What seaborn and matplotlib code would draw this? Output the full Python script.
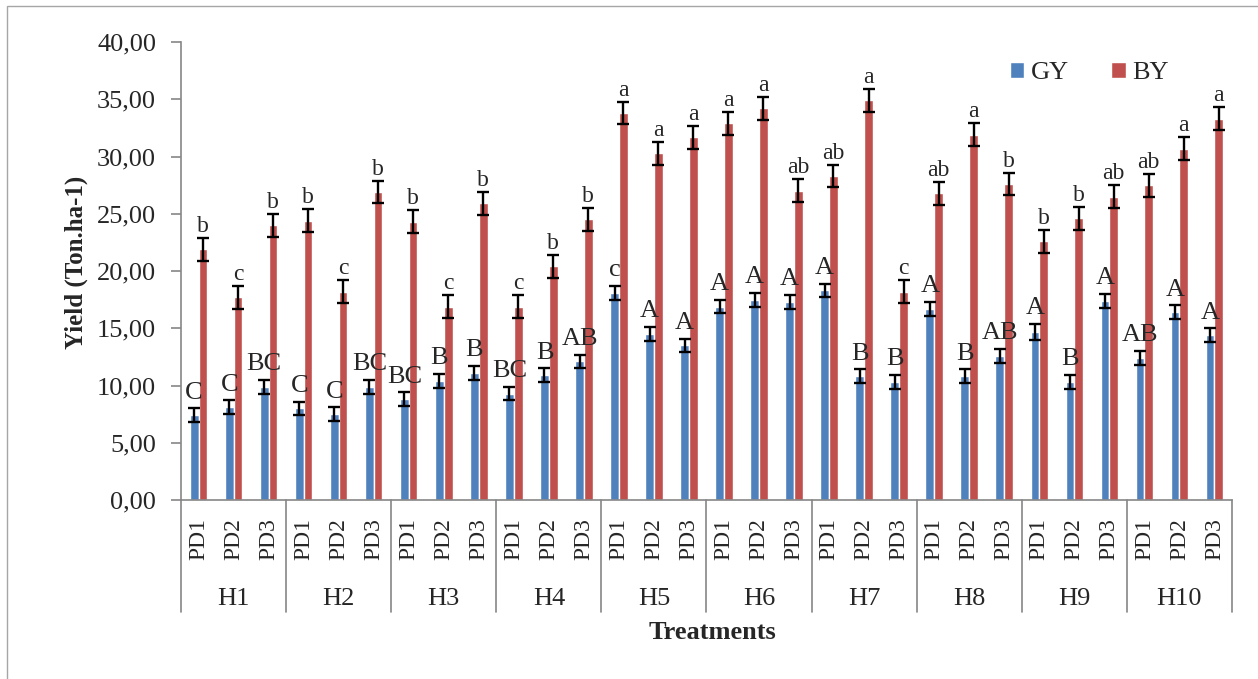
import numpy as np
import pandas as pd
import matplotlib

matplotlib.use("Agg")
import matplotlib.pyplot as plt
from matplotlib.patches import Rectangle
from matplotlib.ticker import FuncFormatter
import seaborn as sns

# data
harvests = ["H1", "H2", "H3", "H4", "H5", "H6", "H7", "H8", "H9", "H10"]
dates = ["PD1", "PD2", "PD3"]

gy = [7.4, 8.1, 9.9, 8.0, 7.5, 9.9, 8.8, 10.4, 11.1, 9.3,
      10.9, 12.1, 18.1, 14.5, 13.5, 16.9, 17.5, 17.3, 18.3, 10.8,
      10.3, 16.7, 10.8, 12.6, 14.7, 10.3, 17.4, 12.4, 16.4, 14.4]
by = [21.9, 17.7, 24.0, 24.4, 18.2, 26.9, 24.3, 16.9, 25.9, 16.9,
      20.4, 24.5, 33.8, 30.3, 31.7, 32.9, 34.2, 27.0, 28.3, 34.9,
      18.2, 26.8, 31.9, 27.6, 22.6, 24.6, 26.5, 27.5, 30.7, 33.3]
gy_err = [0.6, 0.6, 0.6, 0.6, 0.6, 0.6, 0.6, 0.6, 0.6, 0.6,
          0.6, 0.6, 0.6, 0.6, 0.6, 0.6, 0.6, 0.6, 0.6, 0.6,
          0.6, 0.6, 0.6, 0.6, 0.7, 0.6, 0.6, 0.6, 0.6, 0.6]
by_err = [1.0, 1.0, 1.0, 1.0, 1.0, 1.0, 1.0, 1.0, 1.0, 1.0,
          1.0, 1.0, 1.0, 1.0, 1.0, 1.0, 1.0, 1.0, 1.0, 1.0,
          1.0, 1.0, 1.0, 1.0, 1.0, 1.0, 1.0, 1.0, 1.0, 1.0]
gy_letters = ["C", "C", "BC", "C", "C", "BC", "BC", "B", "B", "BC",
              "B", "AB", "c", "A", "A", "A", "A", "A", "A", "B",
              "B", "A", "B", "AB", "A", "B", "A", "AB", "A", "A"]
by_letters = ["b", "c", "b", "b", "c", "b", "b", "c", "b", "c",
              "b", "b", "a", "a", "a", "a", "a", "ab", "ab", "a",
              "c", "ab", "a", "b", "b", "b", "ab", "ab", "a", "a"]

treatments = [f"{h}-{d}" for h in harvests for d in dates]
df = pd.DataFrame({
    "treatment": treatments * 2,
    "trait": ["GY"] * len(gy) + ["BY"] * len(by),
    "yield": gy + by,
})

colors = {"GY": "#4F81BD", "BY": "#C0504D"}
grey = "#868686"
serif = ["Liberation Serif", "DejaVu Serif"]

sns.set_style("white")
plt.rcParams["font.family"] = serif

fig = plt.figure(figsize=(12.58, 6.79), dpi=100)
ax = fig.add_axes([0.1439, 0.2636, 0.8354, 0.6745])

sns.barplot(data=df, x="treatment", y="yield", hue="trait", order=treatments,
            hue_order=["GY", "BY"], palette=colors, width=0.5, saturation=1,
            errorbar=None, ax=ax)

# error bars + letters
for cont, errs, letters, fs, off in zip(ax.containers, [gy_err, by_err],
                                        [gy_letters, by_letters], [19, 17], [7, 4.3]):
    xs = [b.get_x() + b.get_width() / 2 for b in cont]
    hs = [b.get_height() for b in cont]
    ax.errorbar(xs, hs, yerr=errs, fmt="none", ecolor="black",
                elinewidth=1.7, capsize=4.3, capthick=1.7)
    for x, h, e, t in zip(xs, hs, errs, letters):
        ax.annotate(t, xy=(x, h + e), xytext=(0, off), textcoords="offset points",
                    ha="center", va="baseline", fontsize=fs)

ax.set_ylim(0, 40)
ax.set_xlim(-0.5, len(treatments) - 0.5)
ax.set_yticks(np.arange(0, 41, 5))
ax.yaxis.set_major_formatter(FuncFormatter(lambda v, p: f"{v:.2f}".replace(".", ",")))
ax.tick_params(axis="y", length=7, width=1.2, color=grey, labelsize=19, pad=11, left=True)
ax.set_xticks(range(len(treatments)))
ax.set_xticklabels([t.split("-")[1] for t in treatments], rotation=90, fontsize=17)
ax.tick_params(axis="x", length=0, pad=13)
ax.set_xlabel("")
ax.set_ylabel("")
for s in ["top", "right"]:
    ax.spines[s].set_visible(False)
for s in ["left", "bottom"]:
    ax.spines[s].set_color(grey)
    ax.spines[s].set_linewidth(1.2)

# group separators and group labels
for b in np.arange(-0.5, len(treatments), 3):
    ax.plot([b, b], [0, -0.2445], transform=ax.get_xaxis_transform(),
            clip_on=False, color=grey, lw=1.2)
for i, h in enumerate(harvests):
    ax.annotate(h, xy=(3 * i + 1, 0), xycoords=ax.get_xaxis_transform(),
                xytext=(0, -71), textcoords="offset points",
                ha="center", va="center", fontsize=19)

fig.text(0.566, 0.0678, "Treatments", ha="center", va="center",
         fontsize=19, fontweight="bold")
fig.text(0.0605, 0.614, "Yield (Ton.ha-1)", ha="center", va="center",
         rotation=90, fontsize=18, fontweight="bold")

handles, labels = ax.get_legend_handles_labels()
ax.legend(handles, labels, loc="center", bbox_to_anchor=(0.866, 0.8925),
          bbox_transform=fig.transFigure, ncol=2, frameon=False, fontsize=19,
          handlelength=0.55, handleheight=0.55, handletextpad=0.25,
          columnspacing=1.6)

# outer chart border
fig.patches.append(Rectangle((0.0056, -0.2), 1.2, 0.2 + 0.991, transform=fig.transFigure,
                             fill=False, edgecolor="#A6A6A6", lw=1))

fig.savefig("out.png", dpi=100)
